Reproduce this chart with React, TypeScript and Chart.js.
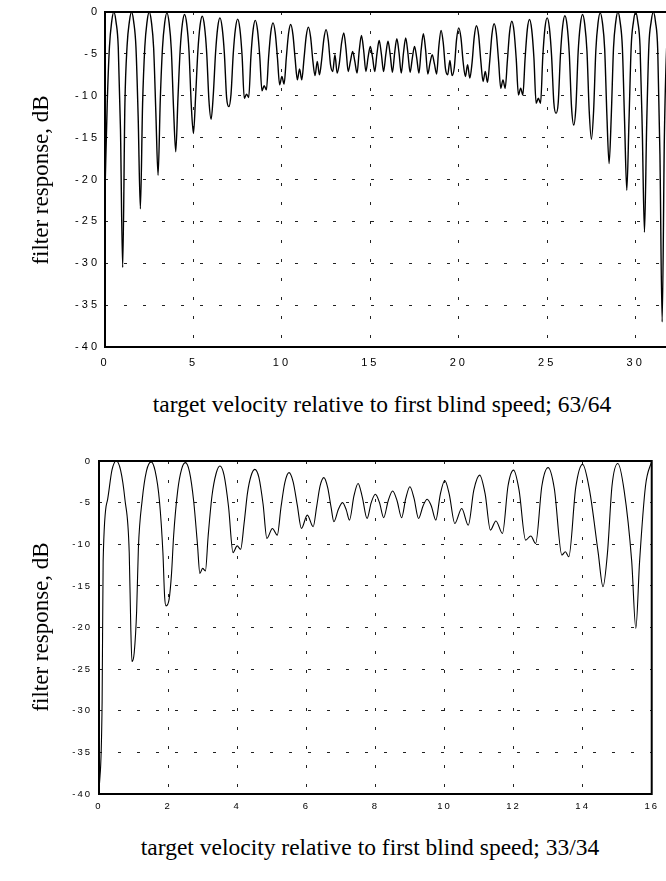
import React, { useEffect, useRef } from "react";
import { Chart, registerables } from "chart.js";

Chart.register(...registerables);

// ---- tick values ----
const responseTicksDb = [0, -5, -10, -15, -20, -25, -30, -35, -40];
const topVelocityTicks = [0, 5, 10, 15, 20, 25, 30];
const bottomVelocityTicks = [0, 2, 4, 6, 8, 10, 12, 14, 16];

// ---- series: [velocity, dB] ----
const response6364Left: [number, number][] = [
  [0, -21.5], [0.125, -11], [0.25, -4.2], [0.375, -1.2], [0.5, 0], [0.625, -1.2], [0.75, -4.2], [0.875, -14],
  [1, -30.5], [1.125, -11], [1.25, -4], [1.375, -1.2], [1.5, 0], [1.625, -1.2], [1.75, -4.2], [1.875, -12.5],
  [2, -23.5], [2.125, -11], [2.25, -4.2], [2.375, -1.2], [2.5, 0], [2.625, -1.2], [2.75, -4.3], [2.875, -12],
  [3, -19.5], [3.125, -10.5], [3.25, -4.3], [3.375, -1.3], [3.5, -0.1], [3.625, -1.3], [3.75, -4.5], [3.875, -11.5],
  [4, -16.7], [4.125, -10.3], [4.25, -4.5], [4.375, -1.4], [4.5, -0.3], [4.625, -1.5], [4.75, -4.7], [4.875, -11],
  [5, -14.5], [5.125, -10], [5.25, -4.7], [5.375, -1.6], [5.5, -0.5], [5.625, -1.7], [5.75, -4.9], [5.875, -10.5],
  [6, -12.8], [6.125, -9.8], [6.25, -4.9], [6.375, -1.8], [6.5, -0.7], [6.625, -1.9], [6.75, -5], [6.875, -10.2],
  [7, -11.3], [7.125, -9.8], [7.25, -5], [7.375, -2], [7.5, -0.85], [7.625, -2], [7.75, -5.2], [7.875, -10.3],
  [8, -9.8], [8.125, -10.2], [8.25, -5.3], [8.375, -2.1], [8.5, -1.0], [8.625, -2.2], [8.75, -5.3], [8.875, -9.4],
  [9, -8.8], [9.125, -9.3], [9.25, -5.4], [9.375, -2.4], [9.5, -1.3], [9.625, -2.5], [9.75, -5.5], [9.875, -8.7],
  [10, -7.7], [10.125, -8.6], [10.25, -5.5], [10.375, -2.6], [10.5, -1.5], [10.625, -2.7], [10.75, -5.6], [10.875, -8.1],
  [11, -6.8], [11.125, -8.1], [11.25, -5.6], [11.375, -2.9], [11.5, -1.8], [11.625, -3.0], [11.75, -5.8], [11.875, -7.6],
  [12, -5.9], [12.125, -7.5], [12.25, -5.7], [12.375, -3.2], [12.5, -2.1], [12.625, -3.4], [12.75, -6.3], [12.875, -7.1],
  [13, -5.1], [13.125, -7.3], [13.25, -6.1], [13.375, -3.7], [13.5, -2.5], [13.625, -4.4], [13.75, -7.1], [13.875, -5.9],
  [14, -4.7], [14.125, -5.9], [14.25, -7.3], [14.375, -4.6], [14.5, -2.8], [14.625, -4.6], [14.75, -7.1], [14.875, -5.4],
  [15, -4.1], [15.125, -5.4], [15.25, -7.1], [15.375, -5.0], [15.5, -3.4], [15.625, -5.0], [15.75, -7.1], [15.875, -5.1],
];

const response6364Right: [number, number][] = [
  [16, -3.5], [16.125, -5.1], [16.25, -7.2], [16.375, -4.9], [16.5, -3.2], [16.625, -4.9], [16.75, -7.3], [16.875, -4.9],
  [17, -3.1], [17.125, -4.9], [17.25, -7.2], [17.375, -5.5], [17.5, -4.1], [17.625, -5.5], [17.75, -7.3], [17.875, -4.5],
  [18, -2.6], [18.125, -4.5], [18.25, -7.4], [18.375, -6.1], [18.5, -5.1], [18.625, -6.2], [18.75, -7.4], [18.875, -4.1],
  [19, -2.2], [19.125, -3.7], [19.25, -6.8], [19.375, -7.5], [19.5, -5.8], [19.625, -7.6], [19.75, -6.6], [19.875, -3.3],
  [20, -1.9], [20.125, -3.1], [20.25, -6.0], [20.375, -7.7], [20.5, -6.3], [20.625, -7.9], [20.75, -6.1], [20.875, -3.0],
  [21, -1.65], [21.125, -2.8], [21.25, -5.9], [21.375, -8.3], [21.5, -7.1], [21.625, -8.4], [21.75, -5.9], [21.875, -2.7],
  [22, -1.4], [22.125, -2.6], [22.25, -5.8], [22.375, -9.1], [22.5, -8.1], [22.625, -9.1], [22.75, -5.8], [22.875, -2.4],
  [23, -1.1], [23.125, -2.3], [23.25, -5.6], [23.375, -9.9], [23.5, -9.1], [23.625, -9.9], [23.75, -5.6], [23.875, -2.1],
  [24, -0.9], [24.125, -2.1], [24.25, -5.5], [24.375, -10.9], [24.5, -10.3], [24.625, -10.9], [24.75, -5.4], [24.875, -1.9],
  [25, -0.7], [25.125, -1.9], [25.25, -5.3], [25.375, -10.8], [25.5, -12.1], [25.625, -10.8], [25.75, -5.1], [25.875, -1.7],
  [26, -0.45], [26.125, -1.6], [26.25, -5.0], [26.375, -11.3], [26.5, -13.5], [26.625, -11.3], [26.75, -4.8], [26.875, -1.5],
  [27, -0.3], [27.125, -1.5], [27.25, -4.7], [27.375, -11.8], [27.5, -15.2], [27.625, -11.8], [27.75, -4.6], [27.875, -1.3],
  [28, -0.1], [28.125, -1.3], [28.25, -4.4], [28.375, -12.3], [28.5, -18.1], [28.625, -12.3], [28.75, -4.3], [28.875, -1.2],
  [29, 0], [29.125, -1.2], [29.25, -4.2], [29.375, -13], [29.5, -21.3], [29.625, -13], [29.75, -4.1], [29.875, -1.2],
  [30, 0], [30.125, -1.2], [30.25, -4.1], [30.375, -14], [30.5, -26.3], [30.625, -13.5], [30.75, -4], [30.875, -1.2],
  [31, 0], [31.125, -1.2], [31.25, -4.5], [31.375, -17], [31.5, -37], [31.625, -15], [31.75, -4.5], [31.875, -1.2],
  [32, 0],
];

const response3334: [number, number][] = [
  [0, -40], [0.09, -29], [0.12, -12], [0.25, -4.6], [0.375, -1.1], [0.5, 0], [0.625, -1.1], [0.75, -4.6],
  [0.875, -11], [0.92, -20], [0.955, -24.1], [1.02, -23], [1.09, -18], [1.14, -10.5], [1.25, -4.7], [1.375, -1.2],
  [1.51, -0.1], [1.625, -1.2], [1.75, -4.8], [1.85, -11], [1.9, -16.3], [1.94, -17.4], [2.03, -16.6], [2.1, -13.5],
  [2.16, -9], [2.28, -3.5], [2.39, -1.0], [2.5, -0.2], [2.62, -1.3], [2.74, -4.8], [2.85, -10], [2.92, -13.5],
  [3.0, -12.9], [3.08, -13.2], [3.16, -9], [3.27, -4.2], [3.39, -1.5], [3.5, -0.6], [3.62, -1.7], [3.75, -5.5],
  [3.88, -11.0], [4.0, -10.2], [4.1, -10.6], [4.2, -7.5], [4.3, -3.8], [4.4, -1.8], [4.51, -1.0], [4.63, -2.0],
  [4.75, -5.2], [4.86, -9.3], [5.02, -8.1], [5.16, -8.9], [5.27, -5.5], [5.38, -2.6], [5.5, -1.4], [5.62, -2.5],
  [5.74, -5.3], [5.86, -8.1], [6.03, -6.5], [6.2, -7.9], [6.3, -5.5], [6.4, -3.0], [6.51, -2.0], [6.62, -3.2],
  [6.72, -5.6], [6.8, -7.3], [6.93, -5.8], [7.05, -5.0], [7.16, -5.9], [7.25, -7.1], [7.38, -4.2], [7.5, -2.7],
  [7.62, -4.3], [7.76, -6.9], [7.88, -5.0], [8.0, -4.0], [8.12, -5.0], [8.24, -6.8], [8.37, -4.8], [8.5, -3.6],
  [8.63, -4.8], [8.76, -6.8], [8.88, -4.5], [9.0, -3.1], [9.12, -4.5], [9.25, -6.9], [9.38, -5.4], [9.5, -4.6],
  [9.62, -5.4], [9.75, -7.1], [9.88, -4.0], [10.01, -2.35], [10.14, -4.0], [10.3, -7.5], [10.5, -5.7], [10.69, -7.7],
  [10.85, -3.5], [11.02, -1.7], [11.18, -4.0], [11.33, -8.3], [11.49, -7.2], [11.68, -8.7], [11.84, -3.0], [12.0, -1.1],
  [12.16, -3.5], [12.35, -9.5], [12.5, -9.0], [12.64, -9.9], [12.82, -3.0], [13.0, -0.8], [13.18, -3.3], [13.4, -11.3],
  [13.5, -10.9], [13.6, -11.5], [13.8, -3.2], [14.0, -0.4], [14.2, -3.5], [14.45, -11], [14.59, -15.1], [14.72, -11],
  [14.85, -3.0], [15.02, -0.3], [15.2, -3.5], [15.42, -12], [15.54, -20.1], [15.65, -12], [15.82, -3.0], [16.0, 0],
];

type PanelProps = {
  points: [number, number][];
  xMax: number;
  xTicks: number[];
  canvasLeft: number;
  canvasTop: number;
  canvasWidth: number;
  canvasHeight: number;
  yAxisWidth: number;
  xAxisHeight: number;
  padTop: number;
  padRight: number;
  tickFontSize: number;
  letterSpacing: string;
  yTickPadding: number;
  xTickPadding: number;
  lineWidth: number;
};

function Panel(p: PanelProps) {
  const ref = useRef<HTMLCanvasElement | null>(null);
  useEffect(() => {
    const canvas = ref.current;
    if (!canvas) return;
    const spacingPlugin = {
      id: "spacing",
      beforeUpdate(chart: any) {
        chart.ctx.letterSpacing = p.letterSpacing;
      },
      beforeDraw(chart: any) {
        chart.ctx.letterSpacing = p.letterSpacing;
      },
    };
    const framePlugin = {
      id: "frame",
      afterDraw(chart: any) {
        const { ctx, chartArea } = chart;
        ctx.save();
        ctx.strokeStyle = "#000";
        ctx.lineWidth = 2;
        ctx.setLineDash([]);
        ctx.strokeRect(
          chartArea.left,
          chartArea.top,
          chartArea.right - chartArea.left,
          chartArea.bottom - chartArea.top
        );
        ctx.restore();
      },
    };
    const tickFont = { family: "'Liberation Sans', Arial, sans-serif", size: p.tickFontSize };
    const chart = new Chart(canvas, {
      type: "line",
      data: {
        datasets: [
          {
            data: p.points.map(([x, y]) => ({ x, y })),
            borderColor: "#000",
            borderWidth: p.lineWidth,
            pointRadius: 0,
            fill: false,
            cubicInterpolationMode: "monotone",
          },
        ],
      },
      options: {
        animation: false,
        responsive: false,
        maintainAspectRatio: false,
        events: [],
        layout: { padding: { left: 0, top: p.padTop, right: p.padRight, bottom: 0 } },
        plugins: { legend: { display: false }, tooltip: { enabled: false } },
        scales: {
          x: {
            type: "linear",
            min: 0,
            max: p.xMax,
            afterBuildTicks: (s: any) => {
              s.ticks = p.xTicks.map((v) => ({ value: v }));
            },
            afterFit: (s: any) => {
              s.height = p.xAxisHeight;
            },
            ticks: {
              color: "#000",
              font: tickFont,
              padding: p.xTickPadding,
              maxRotation: 0,
              autoSkip: false,
            },
            grid: { color: "#222", lineWidth: 1, drawTicks: false },
            border: { display: false, dash: [3, 16] },
          },
          y: {
            type: "linear",
            min: -40,
            max: 0,
            afterBuildTicks: (s: any) => {
              s.ticks = responseTicksDb.map((v) => ({ value: v }));
            },
            afterFit: (s: any) => {
              s.width = p.yAxisWidth;
            },
            ticks: {
              color: "#000",
              font: tickFont,
              padding: p.yTickPadding,
              autoSkip: false,
            },
            grid: { color: "#222", lineWidth: 1, drawTicks: false },
            border: { display: false, dash: [3, 16] },
          },
        },
      } as any,
      plugins: [spacingPlugin, framePlugin],
    });
    return () => chart.destroy();
  }, []);
  return (
    <canvas
      ref={ref}
      width={p.canvasWidth}
      height={p.canvasHeight}
      style={{
        position: "absolute",
        left: p.canvasLeft,
        top: p.canvasTop,
        width: p.canvasWidth,
        height: p.canvasHeight,
      }}
    />
  );
}

const serif = "'Liberation Serif', 'Times New Roman', serif";

function YTitle({ cx, cy }: { cx: number; cy: number }) {
  return (
    <div
      style={{
        position: "absolute",
        left: cx,
        top: cy,
        transform: "translate(-50%, -50%) rotate(-90deg)",
        whiteSpace: "nowrap",
        fontFamily: serif,
        fontSize: 23,
        lineHeight: 1,
        color: "#000",
      }}
    >
      filter response, dB
    </div>
  );
}

function XTitle({ cx, cy, text }: { cx: number; cy: number; text: string }) {
  return (
    <div
      style={{
        position: "absolute",
        left: cx,
        top: cy,
        transform: "translate(-50%, -50%)",
        whiteSpace: "nowrap",
        fontFamily: serif,
        fontSize: 23.5,
        lineHeight: 1,
        color: "#000",
      }}
    >
      {text}
    </div>
  );
}

export default function App() {
  return (
    <div
      style={{
        position: "absolute",
        left: 0,
        top: 0,
        width: 666,
        height: 881,
        overflow: "hidden",
        background: "#fff",
      }}
    >
      <Panel
        points={[...response6364Left, ...response6364Right]}
        xMax={32}
        xTicks={topVelocityTicks}
        canvasLeft={0}
        canvasTop={0}
        canvasWidth={690}
        canvasHeight={375}
        yAxisWidth={105}
        xAxisHeight={28}
        padTop={12}
        padRight={19}
        tickFontSize={11}
        letterSpacing="3px"
        yTickPadding={5}
        xTickPadding={9}
        lineWidth={1.4}
      />
      <Panel
        points={response3334}
        xMax={16}
        xTicks={bottomVelocityTicks}
        canvasLeft={0}
        canvasTop={420}
        canvasWidth={666}
        canvasHeight={400}
        yAxisWidth={99}
        xAxisHeight={26}
        padTop={41}
        padRight={7}
        tickFontSize={9.5}
        letterSpacing="2px"
        yTickPadding={7}
        xTickPadding={7}
        lineWidth={1.1}
      />
      <YTitle cx={40} cy={180} />
      <YTitle cx={40} cy={627} />
      <XTitle cx={382} cy={405} text="target velocity relative to first blind speed; 63/64" />
      <XTitle cx={370} cy={848} text="target velocity relative to first blind speed; 33/34" />
    </div>
  );
}
